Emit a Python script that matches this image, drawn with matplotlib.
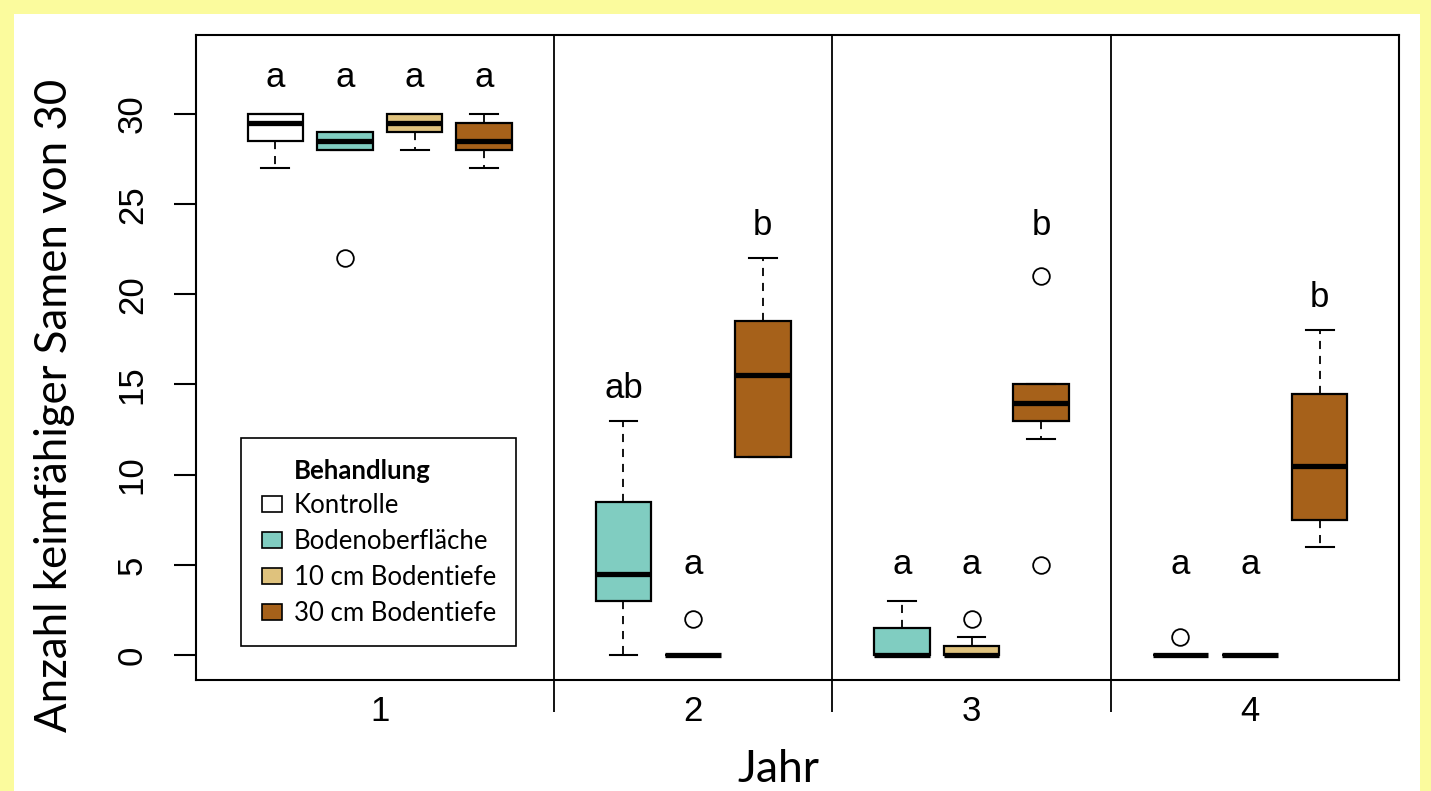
import matplotlib.pyplot as plt
from matplotlib.patches import Patch, Rectangle
import matplotlib.transforms as mtrans

years = ["1", "2", "3", "4"]
treatments = ["Kontrolle", "Bodenoberfläche", "10 cm Bodentiefe", "30 cm Bodentiefe"]
colors = ["#FFFFFF", "#80CDC1", "#DFC27D", "#A6611A"]

# one entry per box: year, treatment index, box statistics
box_year = [1, 1, 1, 1, 2, 2, 2, 3, 3, 3, 4, 4, 4]
box_treat = [0, 1, 2, 3, 1, 2, 3, 1, 2, 3, 1, 2, 3]
med = [29.5, 28.5, 29.5, 28.5, 4.5, 0, 15.5, 0, 0, 14, 0, 0, 10.5]
q1 = [28.5, 28, 29, 28, 3, 0, 11, 0, 0, 13, 0, 0, 7.5]
q3 = [30, 29, 30, 29.5, 8.5, 0, 18.5, 1.5, 0.5, 15, 0, 0, 14.5]
whislo = [27, 28, 28, 27, 0, 0, 11, 0, 0, 12, 0, 0, 6]
whishi = [30, 29, 30, 30, 13, 0, 22, 3, 1, 15, 0, 0, 18]
fliers = [[], [22], [], [], [], [2], [], [], [2], [21, 5], [1], [], []]
letters = ["a", "a", "a", "a", "ab", "a", "b", "a", "a", "b", "a", "a", "b"]
letter_y = [32, 32, 32, 32, 14.8, 5, 23.8, 5, 5, 23.8, 5, 5, 19.8]

positions = [(y - 1) * 4 + t + 1 for y, t in zip(box_year, box_treat)]

W, H = 1431, 791
fig = plt.figure(figsize=(W / 100, H / 100), dpi=100, facecolor="#FBFB9D")
fig.patches.append(Rectangle((14 / W, 0), (1420 - 14) / W, 1 - 14 / H,
                             transform=fig.transFigure, facecolor="white",
                             edgecolor="none", zorder=-10))
ax = fig.add_axes([196 / W, 111 / H, (1399 - 196) / W, (680 - 35) / H])

stats = []
for i in range(len(positions)):
    stats.append(dict(med=med[i], q1=q1[i], q3=q3[i], whislo=whislo[i],
                      whishi=whishi[i], fliers=fliers[i]))

bp = ax.bxp(stats, positions=positions, widths=0.8, capwidths=0.4,
            patch_artist=True, showfliers=True,
            boxprops=dict(linewidth=1.6, edgecolor="black"),
            medianprops=dict(color="black", linewidth=3.8, solid_capstyle="butt"),
            whiskerprops=dict(color="black", linewidth=1.3, linestyle=(0, (4.5, 3.8))),
            capprops=dict(color="black", linewidth=1.5),
            flierprops=dict(marker="o", markerfacecolor="none",
                            markeredgecolor="black", markersize=12,
                            markeredgewidth=1.3))
for box, t in zip(bp["boxes"], box_treat):
    box.set_facecolor(colors[t])

for p, lab, y in zip(positions, letters, letter_y):
    ax.text(p, y, lab, ha="center", va="center", fontsize=25,
            family="Liberation Sans")

# year separators, reaching below the axis
seps = [y * 4 + 1 for y in range(1, len(years))]
trans = mtrans.blended_transform_factory(ax.transData, ax.transAxes)
ax.vlines(seps, -0.05, 1, colors="black", linewidth=1.3, transform=trans,
          clip_on=False)

centers = []
for yr in range(1, len(years) + 1):
    ps = [p for p, y in zip(positions, box_year) if y == yr]
    centers.append(sum(ps) / len(ps))

ax.set_xlim(-0.14, 17.14)
ax.set_ylim(-1.386, 34.38)
ax.set_xticks(centers, years, family="Liberation Sans")
ax.set_yticks([0, 5, 10, 15, 20, 25, 30])
ax.set_yticklabels(["0", "5", "10", "15", "20", "25", "30"], family="Liberation Sans")
ax.tick_params(axis="x", length=0, pad=11, labelsize=25)
ax.tick_params(axis="y", length=16, width=1.5, pad=18, labelsize=25, labelrotation=90)
for lbl in ax.get_yticklabels():
    lbl.set_va("center")
for s in ax.spines.values():
    s.set_linewidth(1.5)

fig.text(55 / W, 1 - 405 / H, "Anzahl keimfähiger Samen von 30", rotation=90,
         ha="center", va="center", fontsize=31.5, family="Lato")
fig.text(778 / W, 1 - 770 / H, "Jahr", ha="center", va="center",
         fontsize=32, family="Lato")

handles = [Patch(facecolor="none", edgecolor="none", label="Behandlung")]
for t, c in zip(treatments, colors):
    handles.append(Patch(facecolor=c, edgecolor="black", linewidth=1.2, label=t))
leg = ax.legend(handles=handles, loc="upper left",
                bbox_to_anchor=(241 / W, 1 - 438 / H), bbox_transform=fig.transFigure,
                borderaxespad=0, fancybox=False, edgecolor="black", framealpha=1,
                prop=dict(family="Lato", size=18.5), handlelength=0.8,
                handleheight=0.6, handletextpad=0.45, labelspacing=0.42,
                borderpad=0.8)
leg.get_frame().set_linewidth(1.2)
leg.get_texts()[0].set_fontweight("bold")

fig.savefig("out.png", dpi=100, facecolor=fig.get_facecolor())
